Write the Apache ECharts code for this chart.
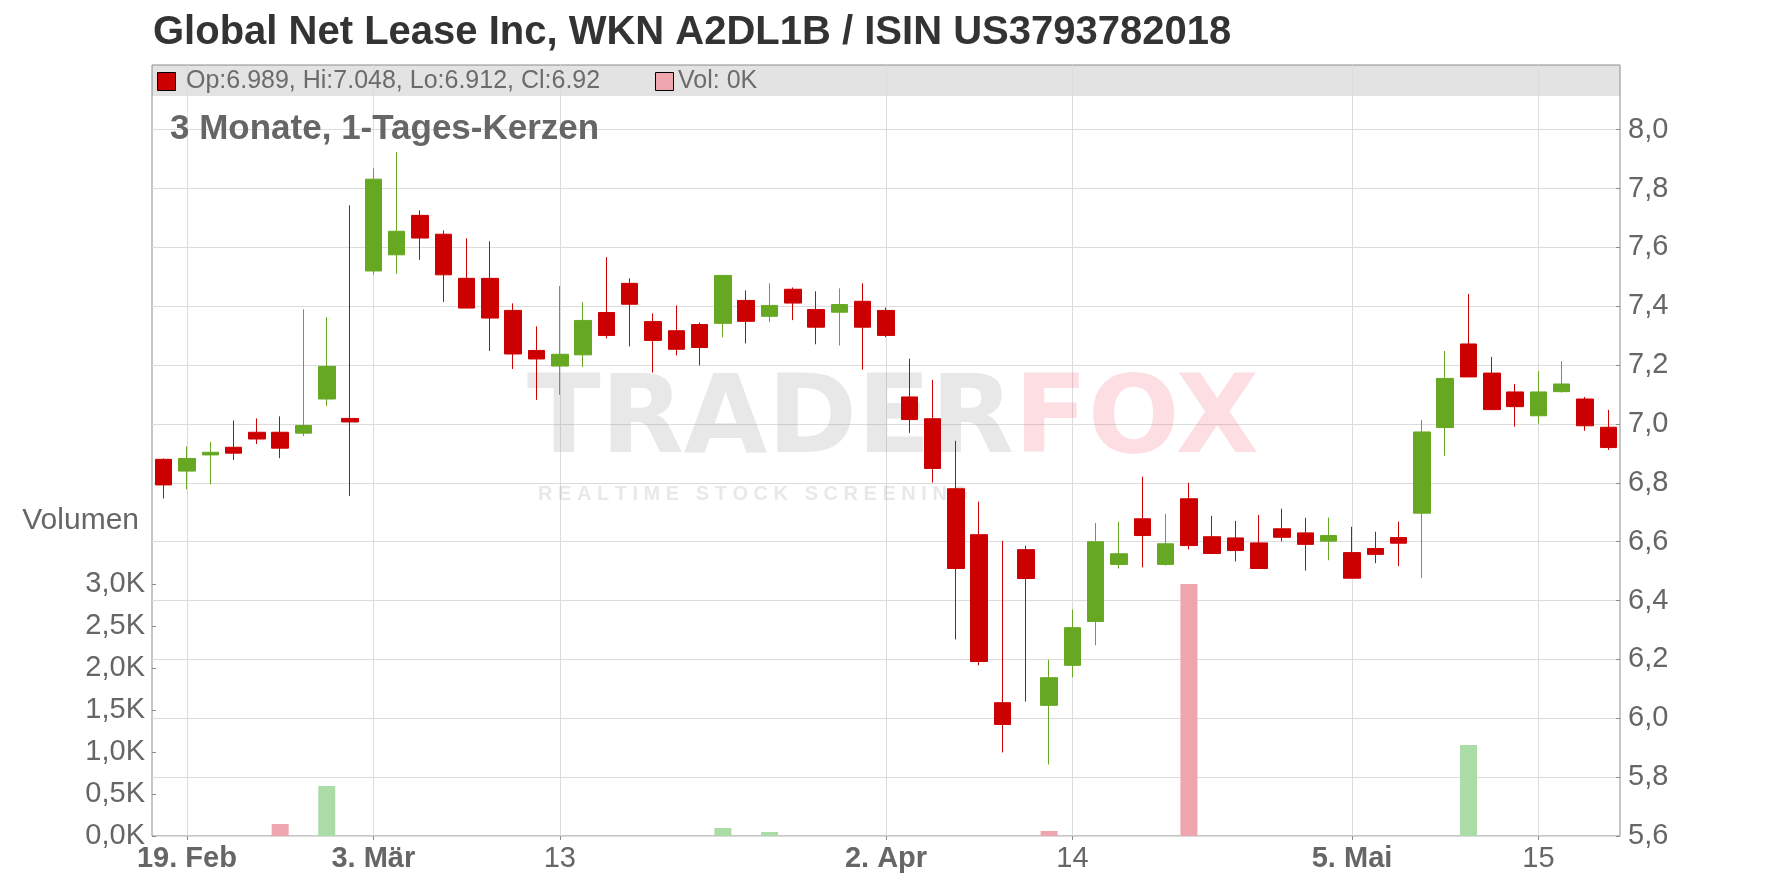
<!DOCTYPE html>
<html><head><meta charset="utf-8">
<script src="https://cdn.jsdelivr.net/npm/echarts@6/dist/echarts.min.js"></script>
<style>html,body{margin:0;padding:0;background:#fff}#c{width:1776px;height:888px}</style>
</head><body><div id="c"></div>
<script>
// ---- data (trading days, 18 Feb - 20 May) ----
const dates = [
 '2025-02-18','2025-02-19','2025-02-20','2025-02-21','2025-02-24','2025-02-25','2025-02-26','2025-02-27','2025-02-28',
 '2025-03-03','2025-03-04','2025-03-05','2025-03-06','2025-03-07','2025-03-10','2025-03-11','2025-03-12','2025-03-13','2025-03-14',
 '2025-03-17','2025-03-18','2025-03-19','2025-03-20','2025-03-21','2025-03-24','2025-03-25','2025-03-26','2025-03-27','2025-03-28','2025-03-31',
 '2025-04-01','2025-04-02','2025-04-03','2025-04-04','2025-04-07','2025-04-08','2025-04-09','2025-04-10','2025-04-11','2025-04-14',
 '2025-04-15','2025-04-16','2025-04-17','2025-04-22','2025-04-23','2025-04-24','2025-04-25','2025-04-28','2025-04-29','2025-04-30',
 '2025-05-02','2025-05-05','2025-05-06','2025-05-07','2025-05-08','2025-05-09','2025-05-12','2025-05-13','2025-05-14','2025-05-15',
 '2025-05-16','2025-05-19','2025-05-20'
];
const opens = [6.880,6.840,6.895,6.921,6.972,6.972,6.969,7.085,7.019,7.520,7.575,7.709,7.645,7.495,7.495,7.386,7.250,7.197,7.235,7.379,
 7.478,7.348,7.317,7.338,7.342,7.420,7.366,7.458,7.389,7.380,7.417,7.386,7.092,7.018,6.780,6.624,6.053,6.573,6.044,6.180,
 6.329,6.523,6.678,6.523,6.746,6.617,6.613,6.596,6.644,6.630,6.602,6.563,6.577,6.614,6.697,6.988,7.272,7.173,7.109,7.028,
 7.110,7.085,6.989];
const closes = [6.793,6.883,6.904,6.901,6.949,6.918,6.995,7.196,7.007,7.832,7.655,7.632,7.507,7.394,7.360,7.238,7.221,7.237,7.352,7.301,
 7.407,7.284,7.254,7.260,7.505,7.349,7.403,7.411,7.329,7.406,7.329,7.301,7.015,6.849,6.509,6.193,5.979,6.475,6.138,6.308,
 6.600,6.559,6.621,6.593,6.587,6.560,6.570,6.509,6.615,6.591,6.621,6.476,6.557,6.595,6.973,7.155,7.160,7.049,7.059,7.109,
 7.136,6.994,6.920];
const lows = [6.747,6.778,6.795,6.878,6.932,6.884,6.959,7.061,6.755,7.507,7.510,7.558,7.415,7.394,7.248,7.187,7.082,7.099,7.194,7.291,
 7.264,7.175,7.233,7.199,7.295,7.274,7.346,7.353,7.271,7.267,7.185,7.295,6.970,6.801,6.268,6.180,5.884,6.057,5.843,6.139,
 6.248,6.509,6.513,6.519,6.574,6.560,6.533,6.509,6.601,6.502,6.537,6.476,6.527,6.517,6.476,6.892,7.160,7.049,6.991,7.001,
 7.107,6.977,6.912];
const highs = [6.883,6.924,6.939,7.012,7.019,7.026,7.390,7.363,7.743,7.869,7.924,7.726,7.658,7.631,7.621,7.410,7.332,7.469,7.414,7.567,
 7.495,7.376,7.403,7.345,7.505,7.454,7.478,7.464,7.451,7.461,7.478,7.396,7.222,7.150,6.943,6.736,6.603,6.586,6.199,6.369,
 6.664,6.668,6.821,6.695,6.800,6.688,6.671,6.691,6.712,6.681,6.682,6.651,6.634,6.668,7.014,7.248,7.442,7.228,7.136,7.180,
 7.214,7.092,7.048];
const volumes = [0,0,0,0,0,143,0,595,0,0,0,0,0,0,0,0,0,0,0,0,
 0,0,0,0,95,0,48,0,0,0,0,0,0,0,0,0,0,0,60,0,
 0,0,0,0,3000,0,0,0,0,0,0,0,0,0,0,0,1083,0,0,0,
 0,0,0];
const tickDates = ['2025-02-19','2025-03-03','2025-03-13','2025-04-02','2025-04-14','2025-05-05','2025-05-15'];
const tickLabels = ['19. Feb','3. Mär','13','2. Apr','14','5. Mai','15'];
const priceTicks = [5.6,5.8,6.0,6.2,6.4,6.6,6.8,7.0,7.2,7.4,7.6,7.8,8.0];
const volumeTicks = [0,500,1000,1500,2000,2500,3000];
const titleText = 'Global Net Lease Inc, WKN A2DL1B / ISIN US3793782018';
const subTitleText = '3 Monate, 1-Tages-Kerzen';

// ---- styling ----
const FONT = '"Liberation Sans", Arial, sans-serif';
const WMFONT = '"DejaVu Sans", "Liberation Sans", sans-serif';
const UP = '#66a822', DOWN = '#cc0000';
const VUP = '#abdca8', VDOWN = '#eea5ad';
const GRIDC = '#dcdcdc', AXC = '#8c8c8c', LABC = '#666666';

const tickIdx = tickDates.map(d => dates.indexOf(d));
const candleData = dates.map((d, i) => [opens[i], closes[i], lows[i], highs[i]]);
const volData = volumes.map((v, i) => ({
  value: v,
  itemStyle: { color: (i > 0 && closes[i] < closes[i - 1]) ? VDOWN : VUP }
}));
const last = dates.length - 1;
const legendText = 'Op:' + opens[last] + ', Hi:' + highs[last] + ', Lo:' + lows[last] + ', Cl:' + closes[last];
const volText = 'Vol: ' + Math.round(volumes[last] / 1000) + 'K';
const lastColor = closes[last] < opens[last] ? DOWN : UP;
const lastVolColor = (closes[last] < closes[last - 1]) ? VDOWN : VUP;

const L = 152, R = 156, T = 65, B = 52;
const chart = echarts.init(document.getElementById('c'), null, { renderer: 'canvas' });
chart.setOption({
  animation: false,
  backgroundColor: '#ffffff',
  textStyle: { fontFamily: FONT },
  title: [
    { text: titleText, left: 153, top: 13, padding: 0,
      textStyle: { fontSize: 40, fontWeight: 'bold', color: '#333333', fontFamily: FONT } },
    { text: subTitleText, left: 170, top: 112, padding: 0,
      textStyle: { fontSize: 35, fontWeight: 'bold', color: '#666666', fontFamily: FONT } }
  ],
  grid: [
    { left: L, right: R, top: T, bottom: B, show: true, borderColor: AXC, borderWidth: 1, backgroundColor: 'transparent' },
    { left: L, right: R, top: 542, bottom: B, show: false }
  ],
  graphic: [
    { type: 'rect', z: -10, shape: { x: L, y: T, width: 1776 - L - R, height: 31 }, style: { fill: '#e3e3e3' } },
    { type: 'rect', z: 10, shape: { x: 157.5, y: 72.5, width: 18, height: 18 }, style: { fill: lastColor, stroke: '#000', lineWidth: 1 } },
    { type: 'text', z: 10, style: { x: 186, y: 81, text: legendText, fontSize: 25, fontFamily: FONT, fill: '#6b6b6b', verticalAlign: 'middle' } },
    { type: 'rect', z: 10, shape: { x: 655.5, y: 72.5, width: 18, height: 18 }, style: { fill: lastVolColor, stroke: '#000', lineWidth: 1 } },
    { type: 'text', z: 10, style: { x: 678, y: 81, text: volText, fontSize: 25, fontFamily: FONT, fill: '#6b6b6b', verticalAlign: 'middle' } },
    { type: 'text', z: 10, style: { x: 139, y: 521, text: 'Volumen', fontSize: 30, fontFamily: FONT, fill: LABC, align: 'right', verticalAlign: 'middle' } },
    // watermark
    { type: 'text', z: 1, silent: true, style: { x: 527, y: 424, text: 'TRADER', fontSize: 108, fontWeight: 'bold', fontFamily: WMFONT, fill: 'rgba(140,140,140,0.2)', verticalAlign: 'middle' } },
    { type: 'text', z: 1, silent: true, style: { x: 1014, y: 424, text: 'FOX', fontSize: 108, fontWeight: 'bold', fontFamily: WMFONT, fill: 'rgba(245,70,100,0.18)', verticalAlign: 'middle' } },
    { type: 'text', z: 1, silent: true, style: { x: 538, y: 494, text: 'R E A L T I M E   S T O C K   S C R E E N I N G', fontSize: 20, fontWeight: 'bold', fontFamily: FONT, fill: 'rgba(140,140,140,0.2)', verticalAlign: 'middle' } }
  ],
  xAxis: [
    { type: 'category', gridIndex: 0, data: dates, boundaryGap: true, show: false },
    { type: 'value', gridIndex: 0, min: -0.5, max: dates.length - 0.5, position: 'bottom',
      axisLine: { show: false, onZero: false },
      axisTick: { show: true, inside: false, length: 4, customValues: tickIdx, lineStyle: { color: AXC } },
      axisLabel: { show: true, margin: 8, customValues: tickIdx,
        formatter: v => { const k = tickIdx.indexOf(Math.round(v)); if (k < 0) return ''; const t = tickLabels[k]; return t.indexOf('.') >= 0 ? '{b|' + t + '}' : '{n|' + t + '}'; },
        rich: { b: { fontSize: 29, fontWeight: 'bold', color: LABC, fontFamily: FONT }, n: { fontSize: 29, color: LABC, fontFamily: FONT } } },
      splitLine: { show: true, lineStyle: { color: GRIDC, width: 1 } } },
    { type: 'category', gridIndex: 1, data: dates, boundaryGap: true, show: false }
  ],
  yAxis: [
    { type: 'value', gridIndex: 0, position: 'right', min: 5.6, max: 8.22, interval: 0.2,
      axisLine: { show: false, onZero: false },
      axisTick: { show: true, inside: true, length: 4, customValues: priceTicks, lineStyle: { color: AXC } },
      axisLabel: { show: true, margin: 8, customValues: priceTicks, fontSize: 29, color: LABC, fontFamily: FONT,
        formatter: v => v.toFixed(1).replace('.', ',') },
      splitLine: { show: true, lineStyle: { color: GRIDC, width: 1 } } },
    { type: 'value', gridIndex: 1, position: 'left', min: 0, max: 3500, interval: 500,
      axisLine: { show: false, onZero: false },
      axisTick: { show: true, inside: true, length: 4, customValues: volumeTicks, lineStyle: { color: AXC } },
      axisLabel: { show: true, margin: 7, customValues: volumeTicks, fontSize: 29, color: LABC, fontFamily: FONT,
        formatter: v => v > 3000 ? '' : (v / 1000).toFixed(1).replace('.', ',') + 'K' },
      splitLine: { show: false } }
  ],
  series: [
    { type: 'bar', name: 'Vol', xAxisIndex: 2, yAxisIndex: 1, data: volData, barWidth: 17, z: 2 },
    { type: 'candlestick', name: 'Kurs', xAxisIndex: 0, yAxisIndex: 0, data: candleData, barWidth: 17, z: 3,
      itemStyle: { color: UP, color0: DOWN, borderColor: UP, borderColor0: DOWN, borderWidth: 1 } }
  ]
});
</script>
</body></html>
